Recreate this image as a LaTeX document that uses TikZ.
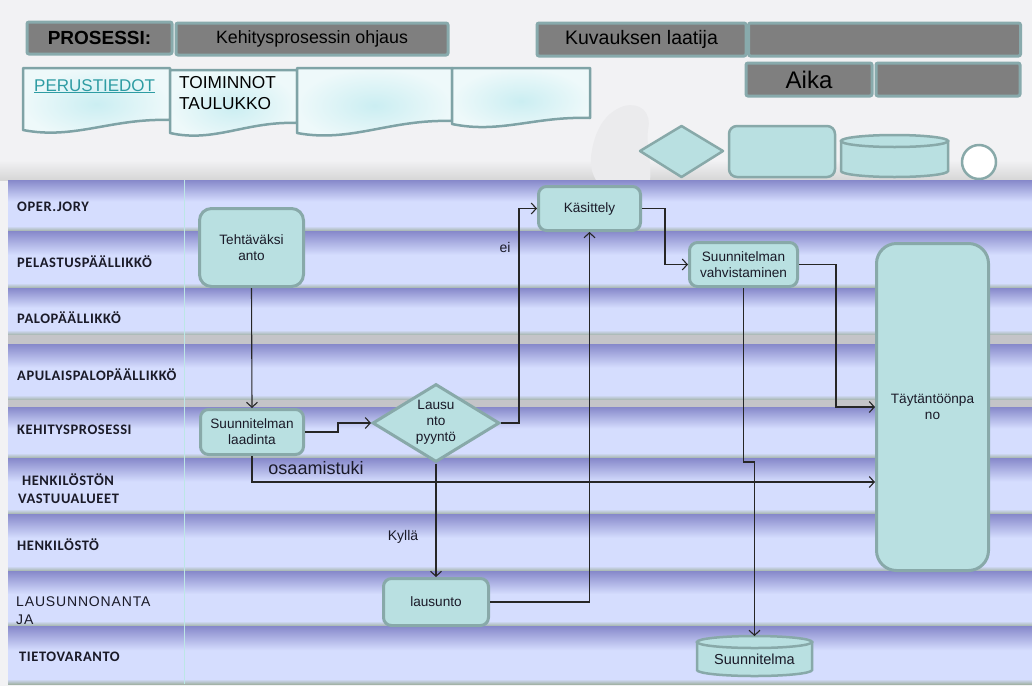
\documentclass[tikz,border=0pt]{standalone}
\usepackage{fontspec}
\setmainfont{Liberation Sans}
\newfontfamily\wf[LetterSpace=6]{Liberation Sans}
\newfontfamily\lf[LetterSpace=4]{Carlito}
\usetikzlibrary{arrows.meta,shapes.geometric,calc}
\definecolor{bg}{HTML}{F2F2F4}
\definecolor{lanedark}{HTML}{8688CA}
\definecolor{lanelight}{HTML}{D5DDFE}
\definecolor{laneline}{HTML}{A3B3A8}
\definecolor{gapgray}{HTML}{C4C4C8}
\definecolor{nodefill}{HTML}{B9E0E1}
\definecolor{nodeborder}{HTML}{88A9A9}
\definecolor{hdrgray}{HTML}{7F7F7F}
\definecolor{hdrborder}{HTML}{88AAAC}
\definecolor{docin}{HTML}{CBEEF2}
\definecolor{docout}{HTML}{EEF9FA}
\definecolor{docborder}{HTML}{7FA3A6}
\definecolor{linkcol}{HTML}{2E9CA3}
\definecolor{divider}{HTML}{BCE6E6}
\definecolor{blob}{HTML}{EBEBED}
\definecolor{txt}{HTML}{1A1A28}
\newcommand\mylane[2]{%
  \pgfmathsetmacro\lmid{#1+0.42*(#2-#1)}%
  \fill[lanelight] (8,#1) rectangle (1032,#2);
  \shade[top color=lanedark,bottom color=lanelight] (8,#1) rectangle (1032,\lmid);
  \shade[top color=lanelight,bottom color=laneline] (8,#2-5) rectangle (1032,#2);
}
\newcommand\mydoc[5]{%
  \path[draw=docborder,line width=2.5pt,inner color=docin,outer color=docout,line join=round]
    (#1,#3) -- (#2,#3) -- (#2,#5)
    .. controls ({#2-0.4*(#2-#1)},{#5-2}) and ({#1+0.35*(#2-#1)},{#4+10}) .. (#1,#4) -- cycle;
}
\newcommand\mycyl[5]{% x1 x2 ytop ybot ry
  \pgfmathsetmacro\crx{(#2-#1)/2}%
  \pgfmathsetmacro\ccx{(#2+#1)/2}%
  \path[draw=nodeborder,fill=nodefill,line width=2.5pt]
    (#1,#3+#5) -- (#1,#4-#5) arc[start angle=180,end angle=0,x radius=\crx,y radius=#5] -- (#2,#3+#5) -- cycle;
  \path[draw=nodeborder,fill=nodefill,line width=2.5pt] (\ccx,#3+#5) ellipse[x radius=\crx,y radius=#5];
}
\tikzset{
  hdr/.style={draw=hdrborder,fill=hdrgray,line width=3pt,rounded corners=2pt,inner sep=0pt,text=black},
  flow/.style={draw=nodeborder,fill=nodefill,line width=3pt,rounded corners=10pt,align=center,
    font=\fontsize{13.6}{16}\selectfont,inner sep=0pt,text=txt},
  lanelbl/.style={anchor=west,font=\lf\bfseries\fontsize{14.5}{18}\selectfont,text=txt,inner sep=0pt},
  arr/.style={draw=black!85,line width=1.1pt,-{Straight Barb[length=5pt,width=11pt,line width=1.1pt]}},
  lbl/.style={font=\fontsize{14}{16}\selectfont,text=txt,inner sep=0pt}
}
\begin{document}
\begin{tikzpicture}[x=1pt,y=-1pt]
\useasboundingbox (0,0) rectangle (1032,686);
\fill[bg] (0,0) rectangle (1032,686);
\shade[top color=bg,bottom color=black!16] (0,160) rectangle (1032,180);
\fill[blob] (592,150) .. controls (596,128) and (606,112) .. (624,106) .. controls (640,102) and (652,112) .. (648,130) .. controls (646,145) and (652,165) .. (650,180) -- (596,180) .. controls (590,170) and (590,160) .. (592,150) -- cycle;

% header boxes
\node[hdr,minimum width=145,minimum height=32,font=\bfseries\fontsize{19}{21}\selectfont] (proc) at (99.5,38) {PROSESSI:};
\node[hdr,minimum width=272,minimum height=32,font=\fontsize{17.8}{20}\selectfont] (pname) at (312,39) {Kehitysprosessin ohjaus};
\node[hdr,minimum width=209,minimum height=33,font=\fontsize{19.5}{21}\selectfont] (auth) at (641.5,39.5) {Kuvauksen laatija};
\node[hdr,minimum width=272,minimum height=33] (authv) at (884.5,39.5) {};
\node[hdr,minimum width=126,minimum height=33,font=\fontsize{24}{26}\selectfont] (aika) at (809,79.5) {Aika};
\node[hdr,minimum width=144,minimum height=33] (aikav) at (948,79.5) {};

% document tabs
\mydoc{23}{170}{68}{130}{120}
\mydoc{170}{297}{70}{133}{123}
\mydoc{297}{452}{68}{133}{121}
\mydoc{452}{590}{68}{124}{118}
\node[anchor=base west,inner sep=0pt,text=linkcol,font=\fontsize{17}{19}\selectfont] (perus) at (34,91) {\underline{PERUSTIEDOT}};
\node[anchor=north west,inner sep=0pt,align=left,text=black,font=\fontsize{17.3}{21}\selectfont] (toim) at (179,76) {TOIMINNOT\\TAULUKKO};

% legend shapes
\path[draw=nodeborder,fill=nodefill,line width=2.5pt,line join=round] (640,151) -- (681.5,126) -- (723,151) -- (681.5,177) -- cycle;
\path[draw=nodeborder,fill=nodefill,line width=2.5pt,rounded corners=8pt] (729,126) rectangle (835,177);
\mycyl{841}{948}{135}{177}{6}
\path[draw=nodeborder,fill=white,line width=2.5pt] (979,162) circle[radius=17];

% lanes
\mylane{180}{231}
\node[lanelbl] (l1) at (17,207) {OPER.JORY};
\mylane{231}{288}
\node[lanelbl] (l2) at (17,262) {PELASTUSPÄÄLLIKKÖ};
\mylane{288}{335}
\node[lanelbl] (l3) at (17,318) {PALOPÄÄLLIKKÖ};
\fill[gapgray] (8,335) rectangle (1032,344);
\mylane{344}{400}
\node[lanelbl] (l4) at (17,375) {APULAISPALOPÄÄLLIKKÖ};
\fill[gapgray] (8,400) rectangle (1032,407);
\mylane{407}{458}
\node[lanelbl] (l5) at (17,430) {KEHITYSPROSESSI};
\mylane{458}{514}
\node[lanelbl,align=left] (l6) at (18,489) {\ HENKILÖSTÖN\\VASTUUALUEET};
\mylane{514}{571}
\node[lanelbl] (l7) at (17,545) {HENKILÖSTÖ};
\mylane{571}{626}
\node[anchor=west,inner sep=0pt,align=left,text=txt,font=\wf\fontsize{14}{18}\selectfont] (l8) at (16,611) {LAUSUNNONANTA\\JA};
\mylane{626}{684}
\node[lanelbl] (l9) at (19,657) {TIETOVARANTO};
\draw[divider,line width=0.8pt] (184,180) -- (184,684);

% flow nodes
\node[flow,minimum width=104,minimum height=78,rounded corners=12pt] (teht) at (251.5,247.5) {Tehtäväksi\\anto};
\node[flow,minimum width=102,minimum height=44,rounded corners=8pt] (kas) at (589.5,208.5) {Käsittely};
\node[flow,minimum width=108,minimum height=44,rounded corners=8pt] (vahv) at (743.5,264.5) {Suunnitelman\\vahvistaminen};
\node[flow,minimum width=112,minimum height=327,rounded corners=20pt] (tayt) at (932.5,407) {Täytäntöönpa\\no};
\node[flow,minimum width=103,minimum height=45,rounded corners=8pt] (laad) at (252,432) {Suunnitelman\\laadinta};
\node[diamond,draw=nodeborder,fill=nodefill,line width=3pt,minimum width=127,minimum height=78,inner sep=0pt] (diam) at (436,423) {};
\node[flow,draw=none,fill=none] (diamt) at (436,422) {Lausu\\nto\\pyyntö};
\node[flow,minimum width=105,minimum height=47,rounded corners=8pt] (laus) at (436,602) {lausunto};
\mycyl{697}{812}{636}{676}{6}
\node[flow,draw=none,fill=none,minimum width=115,minimum height=40,font=\fontsize{14.5}{16}\selectfont] (suun) at (754.5,659) {Suunnitelma};
\coordinate (suuntop) at (754.5,636);

% connectors
\draw[arr] (teht.south) -- (laad.north);
\draw[arr] (laad.east) -- ++(33,0) |- (diam.west);
\draw[arr] (diam.east) -- ++(18,0) |- (kas.west);
\draw[arr] (kas.east) -- ++(23,0) |- (vahv.west);
\draw[arr] (vahv.east) -- ++(37,0) |- (tayt.west);
\draw[arr] (vahv.south) -- ++(0,174) -| (suuntop);
\draw[arr] (laad.south) |- ([yshift=-75pt]tayt.west);
\draw[arr] (diam.south) -- (laus.north);
\draw[arr] (laus.east) -| (kas.south);

% labels
\node[lbl] (ei) at (505,247) {ei};
\node[lbl,font=\fontsize{18}{20}\selectfont] (osa) at (316,468) {osaamistuki};
\node[lbl] (kyl) at (403,537) {Kyllä};
\end{tikzpicture}
\end{document}
